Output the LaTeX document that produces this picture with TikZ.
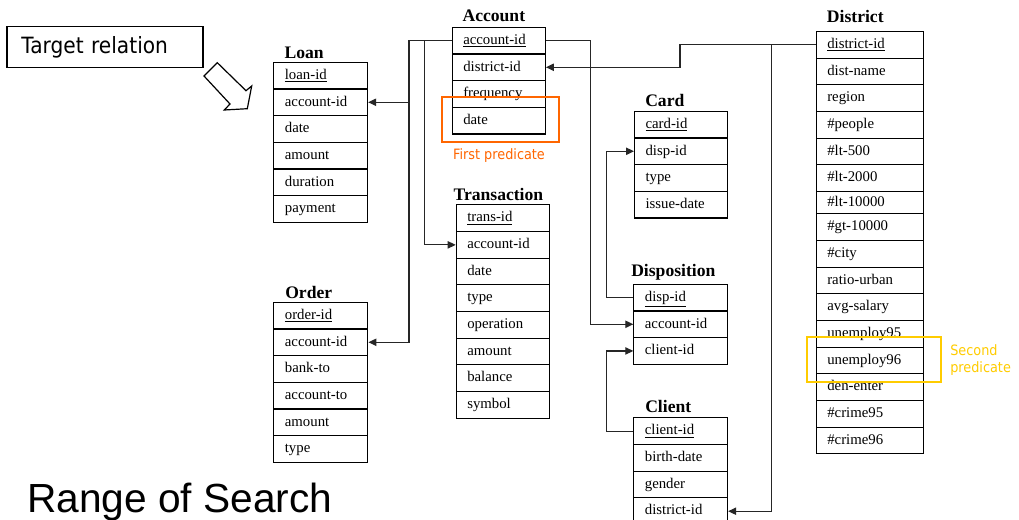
\documentclass[tikz,border=0pt]{standalone}
\usepackage{fontspec}
\setmainfont{Liberation Serif}
\newfontfamily\tahomaish[FakeStretch=0.9]{DejaVu Sans}
\newfontfamily\arialish{Liberation Sans}
\usetikzlibrary{arrows.meta}
\definecolor{predorange}{RGB}{255,102,0}
\definecolor{predyellow}{RGB}{255,204,0}

% one relation: name, left x, top y, text width, list of fields
\newcommand{\dbrelation}[5]{%
  \foreach \fld [count=\k] in {#5}
    \node[field=#4] (#1-\k) at (#2, {#3+(\k-1)*26.67}) {\fld};
}

\begin{document}
\begin{tikzpicture}[x=0.75pt,y=-0.75pt,
  field/.style={draw=black, line width=0.85pt, anchor=north west,
    minimum height=20pt, inner ysep=0pt, inner xsep=8.25pt,
    text width=#1, align=left,
    font=\fontsize{11.1}{13}\selectfont, text height=8pt, text depth=2.4pt},
  title/.style={anchor=base west, inner sep=0pt,
    font=\fontsize{13.2}{15}\selectfont\bfseries},
  link/.style={draw=black!85, line width=0.9pt},
  tip/.style={-{Triangle[length=6pt,width=5.5pt]}},
  predlabel/.style={inner sep=0pt, font=\tahomaish\fontsize{10.7}{12.5}\selectfont},
]
\useasboundingbox (0,0) rectangle (1019,520);
\fill[white] (0,0) rectangle (1019,520);
\clip (0,0) rectangle (1019,520);

% target relation label and hollow arrow
\node[draw=black, line width=0.9pt, anchor=north west, minimum width=147pt,
  minimum height=30.5pt, inner xsep=10.8pt, text width=125.4pt, align=left,
  font=\tahomaish\fontsize{16.8}{20}\selectfont] (target) at (6.3,26.3) {Target relation};
\draw[line width=0.9pt, fill=white, line join=miter]
  (204,76) -- (217.3,62.7) -- (246,90.7) -- (251.7,86) -- (247.3,108.7)
  -- (224.3,110) -- (230,104) -- cycle;

% relations
\node[title] (loan-title) at (284.3,58.3) {Loan};
\dbrelation{loan}{273.3}{61.7}{53.8pt}{\underline{loan-id},account-id,date,amount,duration,payment}

\node[title] (account-title) at (462.3,21.7) {Account};
\dbrelation{account}{451.7}{26.7}{53.3pt}{\underline{account-id},district-id,frequency,date}

\node[title] (trans-title) at (453.3,200) {Transaction};
\dbrelation{trans}{455.7}{204.3}{53.7pt}{\underline{trans-id},account-id,date,type,operation,amount,balance,symbol}

\node[title] (order-title) at (285,298.3) {Order};
\dbrelation{order}{273.3}{301.7}{54pt}{\underline{order-id},account-id,bank-to,account-to,amount,type}

\node[title] (card-title) at (645,106.7) {Card};
\dbrelation{card}{634}{110.7}{53.5pt}{\underline{card-id},disp-id,type,issue-date}

\node[title] (disp-title) at (631,276) {Disposition};
\dbrelation{disp}{633.3}{283.7}{53.8pt}{\underline{disp-id},account-id,client-id}

\node[title] (client-title) at (645,412.3) {Client};
\dbrelation{client}{633.3}{417.3}{53.8pt}{\underline{client-id},birth-date,gender,district-id}

\node[title] (district-title) at (826.7,22.7) {District};
\foreach \fld/\ry/\rh [count=\k] in {
    \underline{district-id}/31/20, dist-name/57.67/20, region/84.33/20,
    \#people/111/20, \#lt-500/137.67/20, \#lt-2000/164.33/20,
    \#lt-10000/191/16.75, \#gt-10000/213.33/20, \#city/240/20,
    ratio-urban/266.67/20, avg-salary/293.33/20, unemploy95/320/20,
    unemploy96/346.67/20, den-enter/373.33/20, \#crime95/400/20,
    \#crime96/426.67/20}
  \node[field=63.6pt, minimum height=\rh pt] (district-\k) at (815.7,\ry) {\fld};

% foreign keys
\draw[link,tip] (account-1.west) -- ++(-42.7,0) |- (loan-2.east);
\draw[link,tip] (account-1.west) -- ++(-42.7,0) |- (order-2.east);
\draw[link,tip] (account-1.west) -- ++(-27.4,0) |- (trans-2.west);
\draw[link,tip] (account-1.east) -- ++(44.6,0) |- (disp-2.west);
\draw[link,tip] (district-1.west) -- ++(-135.7,0) |- (account-2.east);
\draw[link,tip] (district-1.west) -- ++(-44,0) |- (client-4.east);
\draw[link,tip] (disp-1.west) -- ++(-26.6,0) |- (card-2.west);
\draw[link,tip] (client-1.west) -- ++(-26.6,0) |- (disp-3.west);

% predicate highlights
\draw[predorange, line width=1.8pt] (442,97.3) rectangle (558.7,142);
\node[predlabel, text=predorange] (first-pred) at (499,155.7) {First predicate};
\draw[predyellow, line width=1.5pt] (806.7,337.3) rectangle (940.7,381.7);
\node[predlabel, text=predyellow, anchor=north west, align=left] (second-pred)
  at (950,344.5) {Second\\predicate};

% caption
\node[anchor=base west, inner sep=0pt, font=\arialish\fontsize{30.5}{36}\selectfont]
  (range) at (27,512) {Range of Search};
\end{tikzpicture}
\end{document}
